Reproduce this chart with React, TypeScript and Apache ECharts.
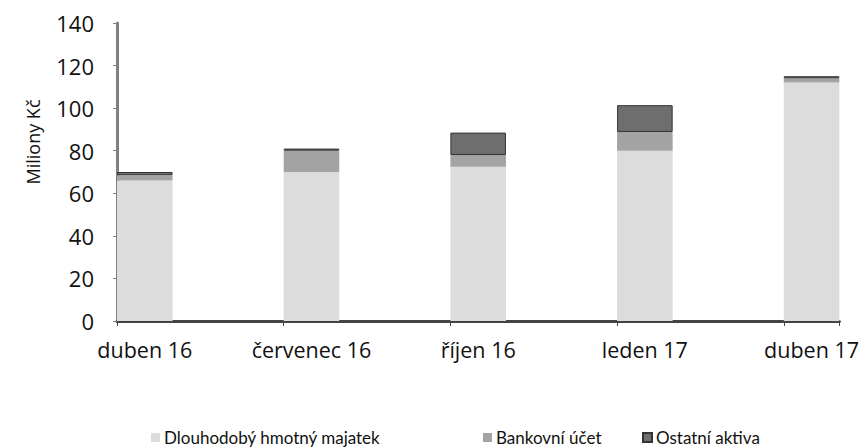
import React, { useEffect, useRef } from "react";
import * as echarts from "echarts";

// 13 monthly bands (duben 16 .. duben 17); bars only at quarterly points
const months = [
  "duben 16", "", "", "červenec 16", "", "", "říjen 16", "", "", "leden 17", "", "", "duben 17",
];
const seriesNames = ["Dlouhodobý hmotný majatek", "Bankovní účet", "Ostatní aktiva"];
const dlouhodoby = [66, null, null, 70, null, null, 72.5, null, null, 80, null, null, 112];
const bankovni = [2.5, null, null, 10, null, null, 5.5, null, null, 8.8, null, null, 2];
const ostatni = [1.5, null, null, 1, null, null, 10.5, null, null, 12.6, null, null, 1];
const yTicks = { min: 0, max: 140, interval: 20 };

const FONT = "Open Sans";
const LEGEND_FONT = "Lato";

export default function App() {
  const ref = useRef<HTMLDivElement>(null);
  useEffect(() => {
    document.body.style.margin = "0";
    if (!ref.current) return;
    const chart = echarts.init(ref.current, null, { renderer: "svg" });
    const colors = ["#dcdcdc", "#a3a3a3", "#6e6e6e"];
    const dataSets = [dlouhodoby, bankovni, ostatni];
    const legendLefts = [146, 478, 637];
    chart.setOption({
      animation: false,
      textStyle: { fontFamily: FONT },
      grid: { left: 117, right: 22, top: 23, bottom: 127, containLabel: false },
      xAxis: {
        type: "category",
        data: months,
        boundaryGap: true,
        axisLine: { lineStyle: { color: "#444", width: 3 } },
        axisTick: { show: true, interval: 2, alignWithLabel: false, lineStyle: { color: "#444" }, length: 5 },
        axisLabel: { interval: 2, color: "#111", fontSize: 21.5, fontFamily: FONT, margin: 17 },
      },
      yAxis: {
        type: "value",
        min: yTicks.min,
        max: yTicks.max,
        interval: yTicks.interval,
        splitLine: { show: false },
        axisLine: { show: true, lineStyle: { color: "#808080", width: 3 } },
        axisTick: { show: true, length: 4, lineStyle: { color: "#808080" } },
        axisLabel: { color: "#111", fontSize: 22, fontFamily: FONT, margin: 23 },
      },
      legend: seriesNames.map((name, i) => ({
        top: 424,
        left: legendLefts[i],
        itemWidth: 9,
        itemHeight: 9,
        itemGap: 4,
        icon: "rect",
        textStyle: { fontSize: 17, color: "#111", fontFamily: LEGEND_FONT, padding: [0, 0, 0, -1] },
        data: [name],
      })),
      graphic: [
        {
          type: "text",
          x: 33,
          y: 142,
          rotation: Math.PI / 2,
          style: {
            text: "Miliony Kč",
            font: `18px "${FONT}"`,
            fill: "#111",
            align: "center",
            verticalAlign: "middle",
          },
        },
      ],
      series: seriesNames.map((name, i) => ({
        name,
        type: "bar",
        stack: "total",
        barCategoryGap: 0,
        barWidth: "100%",
        data: dataSets[i],
        itemStyle: {
          color: colors[i],
          borderColor: i === 2 ? "#333" : "transparent",
          borderWidth: i === 2 ? 1 : 0,
        },
      })),
    });
    return () => chart.dispose();
  }, []);
  return <div ref={ref} style={{ width: 862, height: 448 }} />;
}
